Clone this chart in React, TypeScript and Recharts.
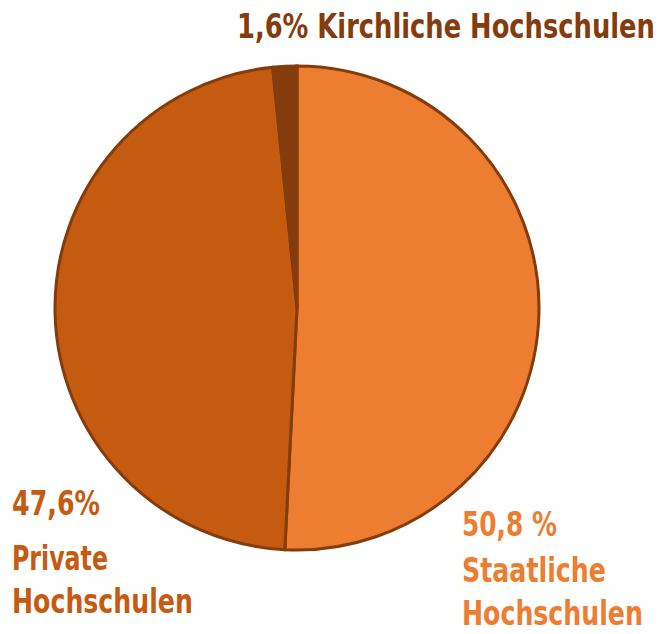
import { PieChart, Pie, Cell } from "recharts"

const categories = ["Staatliche Hochschulen", "Private Hochschulen", "Kirchliche Hochschulen"]
const shares = [50.8, 47.6, 1.6]
const shareLabels = ["50,8 %", "47,6%", "1,6%"]
const colors = ["#ED7D31", "#C55A11", "#843C0C"]

const data = categories.map((name, i) => ({ name, value: shares[i] }))

const font = "'DejaVu Sans Condensed', 'Liberation Sans Narrow', 'Arial Narrow', sans-serif"
const fontSize = 33

// label line: text, x, baseline y, width it should fill, colour index
type Line = { text: string; x: number; y: number; w: number; c: number }

const lines: Line[] = [
  { text: `${shareLabels[2]} ${categories[2]}`, x: 237, y: 38, w: 418, c: 2 },
  { text: shareLabels[1], x: 12, y: 515, w: 88, c: 1 },
  { text: categories[1].split(" ")[0], x: 12, y: 570, w: 96, c: 1 },
  { text: categories[1].split(" ")[1], x: 12, y: 613, w: 181, c: 1 },
  { text: shareLabels[0], x: 462, y: 536, w: 95, c: 0 },
  { text: categories[0].split(" ")[0], x: 462, y: 582, w: 144, c: 0 },
  { text: categories[0].split(" ")[1], x: 462, y: 625, w: 181, c: 0 },
]

let ctx: CanvasRenderingContext2D | null = null
const measure = (s: string) => {
  if (!ctx) ctx = document.createElement("canvas").getContext("2d")
  if (!ctx) return s.length * fontSize * 0.6
  ctx.font = `bold ${fontSize}px ${font}`
  return ctx.measureText(s).width
}

export default function App() {
  return (
    <div style={{ position: "absolute", left: 0, top: 0, width: 659, height: 634, background: "#fff" }}>
      <PieChart width={659} height={634} margin={{ top: 0, right: 0, bottom: 0, left: 0 }}>
        <Pie
          data={data}
          dataKey="value"
          cx={297}
          cy={308}
          outerRadius={242}
          startAngle={90}
          endAngle={-270}
          stroke="#843C0C"
          strokeWidth={3}
          isAnimationActive={false}
        >
          {data.map((entry, index) => (
            <Cell key={`cell-${index}`} fill={colors[index]} />
          ))}
        </Pie>
      </PieChart>
      <svg width={659} height={634} style={{ position: "absolute", left: 0, top: 0 }}>
        <g fontFamily={font} fontWeight="bold" fontSize={fontSize}>
          {lines.map((l, i) => {
            const sx = l.w / measure(l.text)
            return (
              <text
                key={i}
                x={0}
                y={0}
                fill={colors[l.c]}
                transform={`translate(${l.x},${l.y}) scale(${sx.toFixed(3)},1)`}
              >
                {l.text}
              </text>
            )
          })}
        </g>
      </svg>
    </div>
  )
}
